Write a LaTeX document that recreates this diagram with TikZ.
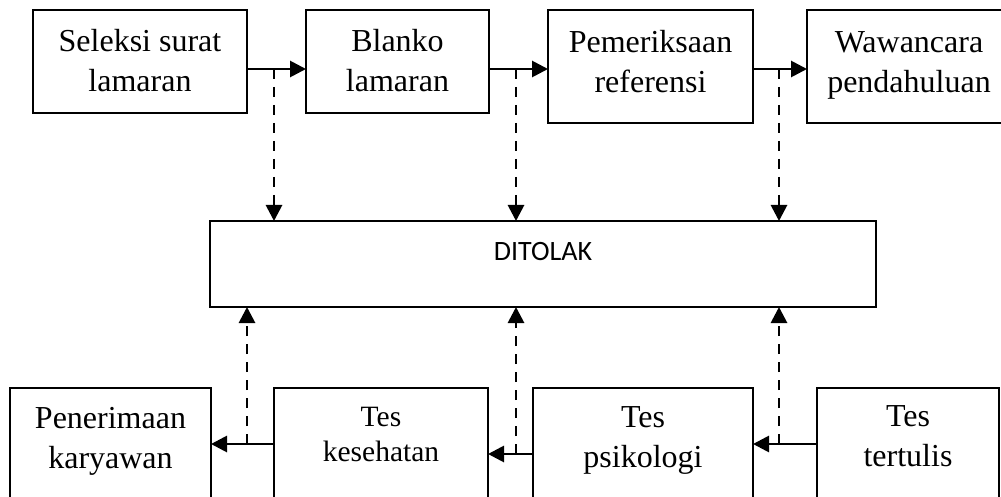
\documentclass[tikz,border=0pt]{standalone}
\usepackage{fontspec}
\setmainfont{Liberation Serif}
\newfontfamily\carl{Carlito}
\usetikzlibrary{arrows.meta}
\begin{document}
\begin{tikzpicture}[x=1pt,y=-1pt,
  box/.style={draw, line width=1.6pt, inner sep=0pt, outer sep=0pt, align=center,
    font=\fontsize{32}{40}\selectfont},
  arr/.style={line width=2.8pt, -{Triangle[length=16pt,width=16pt]}},
  darr/.style={arr, dash pattern=on 10pt off 8pt},
]
\clip (0,0) rectangle (1001,497);
\fill[white] (0,0) rectangle (1001,497);
% top row
\node[box, minimum width=214pt, minimum height=103pt, text height=62pt, text depth=1pt] (b1) at (140,61.5) {Seleksi surat\\lamaran};
\node[box, minimum width=183pt, minimum height=103pt, text height=62pt, text depth=1pt] (b2) at (397.5,61.5) {Blanko\\lamaran};
\node[box, minimum width=205pt, minimum height=113pt, text height=62pt, text depth=9pt] (b3) at (650.5,66.5) {Pemeriksaan\\referensi};
\node[box, minimum width=204pt, minimum height=113pt, text height=62pt, text depth=9pt] (b4) at (909,66.5) {Wawancara\\pendahuluan};
% middle
\node[box, minimum width=666pt, minimum height=86pt, text height=18pt, text depth=26pt, font=\carl\fontsize{28}{34}\selectfont] (rej) at (543,264) {DITOLAK};
% bottom row
\node[box, minimum width=201pt, minimum height=152pt, text height=62pt, text depth=54pt] (pen) at (110.5,464) {Penerimaan\\karyawan};
\node[box, minimum width=214pt, minimum height=152pt, text height=55pt, text depth=61pt, font=\fontsize{29.5}{35}\selectfont] (kes) at (381,464) {Tes\\kesehatan};
\node[box, minimum width=220pt, minimum height=152pt, text height=62pt, text depth=56pt] (psi) at (643,464) {Tes\\psikologi};
\node[box, minimum width=182pt, minimum height=152pt, text height=62pt, text depth=58pt] (ter) at (908,464) {Tes\\tertulis};
% junctions
\coordinate (j1) at (274,69);
\coordinate (j2) at (516,69);
\coordinate (j3) at (779,69);
\coordinate (k1) at (247,444);
\coordinate (k2) at (516,454);
\coordinate (k3) at (779,444);
% connectors
\draw[arr] (b1.east |- j1) -- (b2.west |- j1);
\draw[arr] (b2.east |- j2) -- (b3.west |- j2);
\draw[arr] (b3.east |- j3) -- (b4.west |- j3);
\draw[darr] (j1) -- (j1 |- rej.north);
\draw[darr] (j2) -- (j2 |- rej.north);
\draw[darr] (j3) -- (j3 |- rej.north);
\draw[arr] (kes.west |- k1) -- (pen.east |- k1);
\draw[arr] (psi.west |- k2) -- (kes.east |- k2);
\draw[arr] (ter.west |- k3) -- (psi.east |- k3);
\draw[darr] (k1) -- (k1 |- rej.south);
\draw[darr] (k2) -- (k2 |- rej.south);
\draw[darr] (k3) -- (k3 |- rej.south);
\end{tikzpicture}
\end{document}
